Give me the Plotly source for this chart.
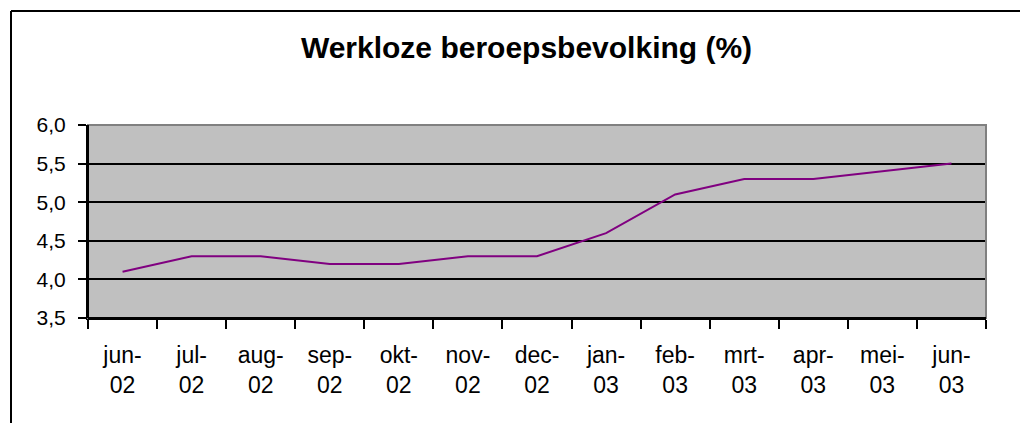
import plotly.graph_objects as go

months = ["jun-<br>02", "jul-<br>02", "aug-<br>02", "sep-<br>02", "okt-<br>02", "nov-<br>02",
          "dec-<br>02", "jan-<br>03", "feb-<br>03", "mrt-<br>03", "apr-<br>03", "mei-<br>03", "jun-<br>03"]
values = [4.1, 4.3, 4.3, 4.2, 4.2, 4.3, 4.3, 4.6, 5.1, 5.3, 5.3, 5.4, 5.5]
y_ticks = [3.5, 4.0, 4.5, 5.0, 5.5, 6.0]

# page body offset compensation
OFF = 8
W, H = 1028, 423
L, R = 88 - OFF, 1028 - (986 - OFF)
T, B = 125 - OFF, 423 - (318 - OFF)
pw, ph = W - L - R, H - T - B

def px_x(x):
    return (x - OFF - L) / pw

def px_y(y):
    return (H - B - (y - OFF)) / ph

fig = go.Figure()
fig.add_trace(go.Scatter(
    x=months, y=values, mode="lines",
    line=dict(color="#800080", width=2),
    hoverinfo="skip", showlegend=False,
))

font = "Liberation Sans, Arial, sans-serif"
fig.update_layout(
    width=W, height=H,
    margin=dict(l=L, r=R, t=T, b=B),
    paper_bgcolor="white",
    plot_bgcolor="#C0C0C0",
    separators=",.",
    font=dict(family=font, color="black"),
    title=dict(text="<b>Werkloze beroepsbevolking (%)</b>",
               font=dict(family=font, size=30, color="black"),
               x=((303 + 750) / 2 - OFF) / W, xanchor="center", xref="container",
               y=1 - (47 - OFF) / H, yanchor="middle", yref="container"),
    xaxis=dict(type="category", tickson="boundaries", ticks="outside",
               range=[-0.5, len(months) - 0.5],
               ticklen=9, tickwidth=2, tickcolor="black",
               showline=True, linecolor="black", linewidth=2,
               showgrid=False, zeroline=False,
               tickfont=dict(family=font, size=23, color="black"),
               ticklabelstandoff=15),
    yaxis=dict(range=[3.5, 6.0], tickvals=y_ticks, tickformat=".1f",
               ticks="outside", ticklen=8, tickwidth=2, tickcolor="black",
               showline=True, linecolor="black", linewidth=2,
               showgrid=True, gridcolor="black", gridwidth=1.5,
               zeroline=False,
               tickfont=dict(family=font, size=21, color="black"),
               ticklabelstandoff=8),
)

# gray top/right plot-area border
fig.add_shape(type="rect", xref="paper", yref="paper", x0=0, x1=1, y0=0, y1=1,
              line=dict(color="#808080", width=2), layer="above")
# re-draw left/bottom black over gray
fig.add_shape(type="line", xref="paper", yref="paper", x0=0, x1=0, y0=0, y1=1,
              line=dict(color="black", width=2), layer="above")
fig.add_shape(type="line", xref="paper", yref="paper", x0=0, x1=1, y0=0, y1=0,
              line=dict(color="black", width=2), layer="above")
# outer chart border: only left and top edges are visible
fig.add_shape(type="line", xref="paper", yref="paper",
              x0=px_x(11), x1=px_x(1028), y0=px_y(11), y1=px_y(11),
              line=dict(color="black", width=2), layer="above")
fig.add_shape(type="line", xref="paper", yref="paper",
              x0=px_x(11), x1=px_x(11), y0=px_y(11), y1=px_y(423),
              line=dict(color="black", width=2), layer="above")

fig.write_html("out.html")
